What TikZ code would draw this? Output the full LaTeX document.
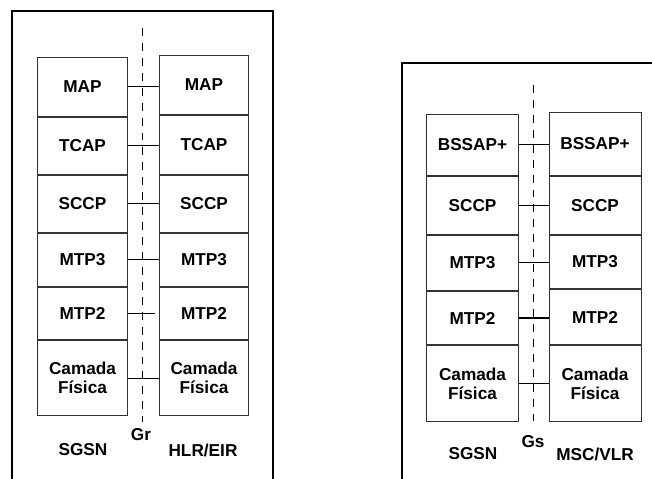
\documentclass[tikz,border=0pt]{standalone}
\usepackage{fontspec}
\setmainfont{Liberation Sans}
\usepackage{tikz}
\usetikzlibrary{positioning}

\begin{document}
\begin{tikzpicture}[x=0.02cm, y=-0.02cm, line width=0.57pt,
    every node/.style={font=\fontsize{9.8}{10.8}\selectfont\bfseries},
    layer/.style={rectangle, draw=black!80, fill=white, inner sep=0pt, align=center},
    frame/.style={draw=black, line width=0.85pt},
    iface/.style={draw=black, dashed, dash pattern=on 4.5 off 4}]
    \useasboundingbox[fill=white] (0,0) rectangle (652,479);

    % Gr interface - outer frame and reference line
    \draw[frame] (12,479) -- (12,11) -- (273,11) -- (273,479);
    \draw[iface] (142,28) -- (142,422);

    % SGSN stack (Gr)
    \node[layer, minimum width=1.82cm, minimum height=1.20cm] (SG1) at (82.5,87) {MAP};
    \node[layer, minimum width=1.82cm, minimum height=1.16cm] (SG2) at (82.5,146) {TCAP};
    \node[layer, minimum width=1.82cm, minimum height=1.16cm] (SG3) at (82.5,204) {SCCP};
    \node[layer, minimum width=1.82cm, minimum height=1.08cm] (SG4) at (82.5,260) {MTP3};
    \node[layer, minimum width=1.82cm, minimum height=1.06cm] (SG5) at (82.5,313.5) {MTP2};
    \node[layer, minimum width=1.82cm, minimum height=1.52cm] (SG6) at (82.5,378) {Camada\\Física};

    % HLR/EIR stack
    \node[layer, minimum width=1.80cm, minimum height=1.20cm] (HL1) at (204,85) {MAP};
    \node[layer, minimum width=1.80cm, minimum height=1.20cm] (HL2) at (204,145) {TCAP};
    \node[layer, minimum width=1.80cm, minimum height=1.16cm] (HL3) at (204,204) {SCCP};
    \node[layer, minimum width=1.80cm, minimum height=1.08cm] (HL4) at (204,260) {MTP3};
    \node[layer, minimum width=1.80cm, minimum height=1.06cm] (HL5) at (204,313.5) {MTP2};
    \node[layer, minimum width=1.80cm, minimum height=1.52cm] (HL6) at (204,378) {Camada\\Física};

    % Peer links (Gr)
    \coordinate (GRgap) at (155,315);
    \draw (SG1.east) -- (SG1.east -| HL1.west);
    \draw (SG2.east) -- (SG2.east -| HL2.west);
    \draw (SG3.east) -- (SG3.east -| HL3.west);
    \draw (SG4.east) -- (SG4.east -| HL4.west);
    \draw (SG5.east) -- (SG5.east -| GRgap);
    \draw (SG6.east) -- (SG6.east -| HL6.west);

    % Labels (Gr)
    \node (GR) at (141,435) {Gr};
    \node (SGa) at (83,450) {SGSN};
    \node (HLR) at (203,450) {HLR/EIR};

    % Gs interface - outer frame and reference line
    \draw[frame] (402,479) -- (402,63) -- (652,63);
    \draw[iface] (533,85) -- (533,422);

    % SGSN stack (Gs)
    \node[layer, minimum width=1.86cm, minimum height=1.24cm] (SB1) at (472.5,145) {BSSAP+};
    \node[layer, minimum width=1.86cm, minimum height=1.18cm] (SB2) at (472.5,205.5) {SCCP};
    \node[layer, minimum width=1.86cm, minimum height=1.12cm] (SB3) at (472.5,263) {MTP3};
    \node[layer, minimum width=1.86cm, minimum height=1.08cm] (SB4) at (472.5,318) {MTP2};
    \node[layer, minimum width=1.86cm, minimum height=1.54cm] (SB5) at (472.5,383.5) {Camada\\Física};

    % MSC/VLR stack
    \node[layer, minimum width=1.84cm, minimum height=1.28cm] (VL1) at (595,144) {BSSAP+};
    \node[layer, minimum width=1.84cm, minimum height=1.18cm] (VL2) at (595,205.5) {SCCP};
    \node[layer, minimum width=1.84cm, minimum height=1.08cm] (VL3) at (595,262) {MTP3};
    \node[layer, minimum width=1.84cm, minimum height=1.12cm] (VL4) at (595,317) {MTP2};
    \node[layer, minimum width=1.84cm, minimum height=1.54cm] (VL5) at (595,383.5) {Camada\\Física};

    % Peer links (Gs)
    \draw (SB1.east) -- (SB1.east -| VL1.west);
    \draw (SB2.east) -- (SB2.east -| VL2.west);
    \draw (SB3.east) -- (SB3.east -| VL3.west);
    \draw (SB4.east) -- (SB4.east -| VL4.west);
    \draw (SB5.east) -- (SB5.east -| VL5.west);

    % Labels (Gs)
    \node (GS) at (533,442) {Gs};
    \node (SGb) at (473,454) {SGSN};
    \node (VLR) at (595,454) {MSC/VLR};
\end{tikzpicture}
\end{document}
